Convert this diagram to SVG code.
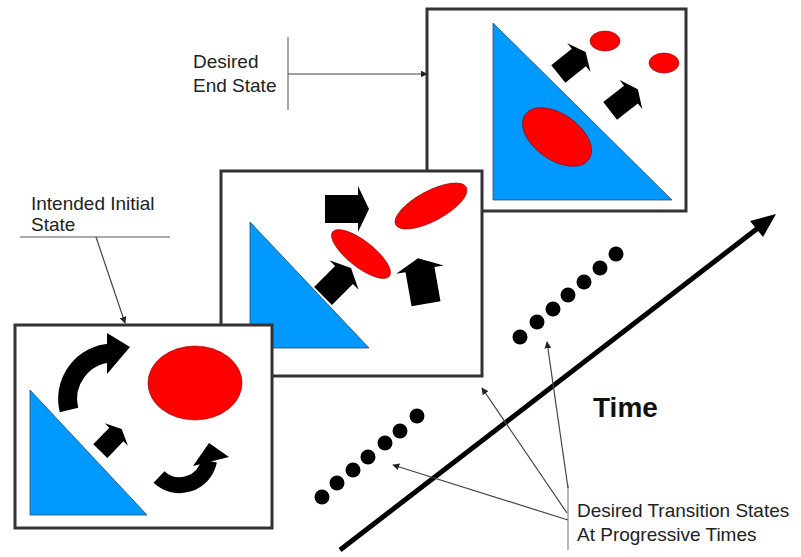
<svg xmlns="http://www.w3.org/2000/svg" width="801" height="557" viewBox="0 0 801 557">
<style>
.frame{fill:#fff;stroke:#333;stroke-width:3}
.tri{fill:#0099ff;stroke:#2a4a66;stroke-width:0.8}
.red{fill:#ff0000;stroke:#880000;stroke-width:0.6}
.blk{fill:#000}
.lbl{font-family:"Liberation Sans",Arial,sans-serif;font-size:19px;fill:#222}
.big{font-family:"Liberation Sans",Arial,sans-serif;font-size:28px;font-weight:bold;fill:#111}
.thin{stroke:#444;stroke-width:1.2;fill:none}
.dot{fill:#000}
</style>
<defs>
<path id="barrow" d="M-22,-14 H11 V-23 L22,0 L11,23 V14 H-22 Z"/>
<marker id="ah" viewBox="0 0 10 10" refX="9" refY="5" markerWidth="7" markerHeight="7" markerUnits="userSpaceOnUse" orient="auto">
<path d="M0,0 L10,5 L0,10 Z" fill="#222"/>
</marker>
</defs>

<g id="frame-end">
<rect class="frame" x="427" y="9" width="259" height="202"/>
<polygon class="tri" points="493,23 493,200 672,200"/>
<ellipse class="red" cx="557" cy="137" rx="39" ry="23" transform="rotate(35 557 137)"/>
<ellipse class="red" cx="605" cy="41" rx="15" ry="10"/>
<ellipse class="red" cx="664" cy="63" rx="15" ry="10"/>
<use href="#barrow" class="blk" transform="translate(572 63) rotate(-39) scale(0.8)"/>
<use href="#barrow" class="blk" transform="translate(624 100) rotate(-38) scale(0.8)"/>
</g>

<g id="frame-mid">
<rect class="frame" x="221" y="171" width="261" height="205"/>
<polygon class="tri" points="250,222 250,348 369,348"/>
<use href="#barrow" class="blk" transform="translate(347 209)"/>
<use href="#barrow" class="blk" transform="translate(337 282) rotate(-45) scale(0.9)"/>
<use href="#barrow" class="blk" transform="translate(422 281) rotate(-100) scale(1.05)"/>
<ellipse class="red" cx="431" cy="206" rx="40" ry="15" transform="rotate(-28 431 206)"/>
<ellipse class="red" cx="361" cy="254" rx="36" ry="13" transform="rotate(38 361 254)"/>
</g>

<g id="frame-initial">
<rect class="frame" x="15" y="325" width="257" height="203"/>
<polygon class="tri" points="30,390 30,515 147,515"/>
<ellipse class="red" cx="195" cy="383" rx="47" ry="37"/>
<path d="M69,410 A46,46 0 0 1 111,353" fill="none" stroke="#000" stroke-width="19"/>
<polygon class="blk" points="107,333 107,374 130,347"/>
<path d="M159,477 A30,30 0 0 0 209,461" fill="none" stroke="#000" stroke-width="16"/>
<polygon class="blk" points="193,466 229,457 209,443"/>
<use href="#barrow" class="blk" transform="translate(111 440) rotate(-46) scale(0.7)"/>
</g>

<g id="dots-upper">
<circle class="dot" cx="520" cy="337" r="7.5"/>
<circle class="dot" cx="537" cy="322" r="7.5"/>
<circle class="dot" cx="553" cy="309" r="7.5"/>
<circle class="dot" cx="568" cy="295" r="7.5"/>
<circle class="dot" cx="584" cy="282" r="7.5"/>
<circle class="dot" cx="600" cy="268" r="7.5"/>
<circle class="dot" cx="616" cy="254" r="7.5"/>
</g>
<g id="dots-lower">
<circle class="dot" cx="322" cy="497" r="7.5"/>
<circle class="dot" cx="337" cy="483" r="7.5"/>
<circle class="dot" cx="353" cy="470" r="7.5"/>
<circle class="dot" cx="368" cy="457" r="7.5"/>
<circle class="dot" cx="385" cy="443" r="7.5"/>
<circle class="dot" cx="400" cy="431" r="7.5"/>
<circle class="dot" cx="417" cy="416" r="7.5"/>
</g>

<g id="labels">
<text class="lbl" x="193" y="68">Desired</text>
<text class="lbl" x="193" y="92">End State</text>
<text class="lbl" x="31" y="210">Intended Initial</text>
<text class="lbl" x="31" y="231">State</text>
<text class="big" x="593" y="417">Time</text>
<text class="lbl" x="577" y="517">Desired Transition States</text>
<text class="lbl" x="577" y="541">At Progressive Times</text>
</g>

<g id="connectors">
<line x1="340" y1="550" x2="758" y2="228" stroke="#000" stroke-width="5"/>
<polygon points="776,214 763,237 750,221" fill="#000"/>
<line x1="288" y1="37" x2="288" y2="110" stroke="#888" stroke-width="1.5"/>
<line class="thin" x1="288" y1="74" x2="427" y2="74" marker-end="url(#ah)"/>
<line x1="20" y1="237" x2="170" y2="237" stroke="#aaa" stroke-width="2"/>
<line class="thin" x1="96" y1="237" x2="125" y2="323" marker-end="url(#ah)"/>
<line x1="568" y1="485" x2="568" y2="550" stroke="#888" stroke-width="1.2"/>
<line class="thin" x1="568" y1="520" x2="393" y2="465" marker-end="url(#ah)"/>
<line class="thin" x1="567" y1="513" x2="482" y2="388" marker-end="url(#ah)"/>
<line class="thin" x1="568" y1="488" x2="547" y2="342" marker-end="url(#ah)"/>
</g>
</svg>
